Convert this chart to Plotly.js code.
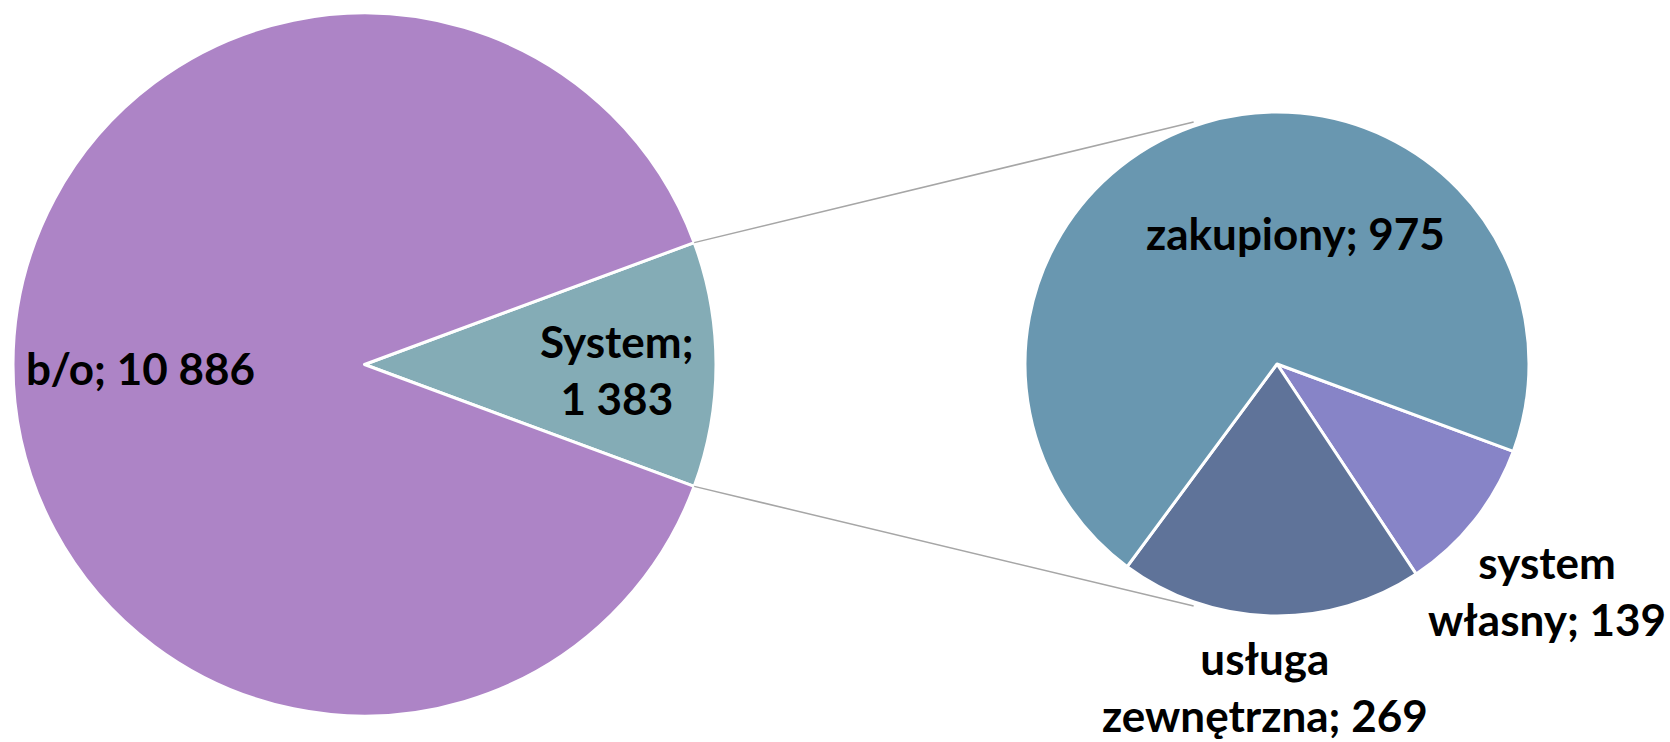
<!DOCTYPE html>
<html>
<head>
<meta charset="utf-8">
<script src="https://cdn.plot.ly/plotly-3.0.1.min.js"></script>
<style>html,body{margin:0;padding:0;background:#fff;}#chart{width:1670px;height:742px;}</style>
</head>
<body>
<div id="chart"></div>
<script>
// ---- data ----
const mainLabels = ["System", "b/o"];
const mainValues = [1383, 10886];
const subLabels = ["system własny", "usługa zewnętrzna", "zakupiony"];
const subValues = [139, 269, 975];

// ---- styles ----
const mainColors = ["#84acb6", "#ad84c6"];
const subColors = ["#8784c7", "#5f7399", "#6997b0"];
const W = 1670, H = 742;
const FONT = "Lato, 'Liberation Sans Narrow', sans-serif";

// pie geometry (pixels)
const L = {cx: 364.5, cy: 364.5, r: 351.5};
const R = {cx: 1277, cy: 364, r: 252};

function fmt(v) {
  return String(v).replace(/\B(?=(\d{3})+(?!\d))/g, " ");
}
const px = x => x / W;
const py = y => 1 - y / H;

const totalMain = mainValues.reduce((a, b) => a + b, 0);
const halfDeg = 180 * mainValues[0] / totalMain;

const traces = [
  {
    type: "pie", labels: mainLabels, values: mainValues, sort: false,
    direction: "clockwise", rotation: 90 - halfDeg,
    marker: {colors: mainColors, line: {color: "#ffffff", width: 3}},
    textinfo: "none", hoverinfo: "label+value",
    domain: {x: [px(L.cx - L.r), px(L.cx + L.r)], y: [py(L.cy + L.r), py(L.cy - L.r)]}
  },
  {
    type: "pie", labels: subLabels, values: subValues, sort: false,
    direction: "clockwise", rotation: 90 + halfDeg,
    marker: {colors: subColors, line: {color: "#ffffff", width: 3}},
    textinfo: "none", hoverinfo: "label+value",
    domain: {x: [px(R.cx - R.r), px(R.cx + R.r)], y: [py(R.cy + R.r), py(R.cy - R.r)]}
  }
];

// connector lines
const a = halfDeg * Math.PI / 180;
const phi = 19 * Math.PI / 180;
const shapes = [-1, 1].map(s => ({
  type: "line", xref: "paper", yref: "paper",
  x0: px(L.cx + L.r * Math.cos(a)), y0: py(L.cy + s * L.r * Math.sin(a)),
  x1: px(R.cx - (R.r + 4) * Math.sin(phi)), y1: py(R.cy + s * (R.r + 4) * Math.cos(phi)),
  line: {color: "#a6a6a6", width: 1.5}
}));

// label placement
const labelSpec = [
  {lab: mainLabels[1], val: mainValues[1], x: 24, y: 368, xanchor: "left", wrap: false},
  {lab: mainLabels[0], val: mainValues[0], x: 617, y: 370, xanchor: "center", wrap: "value"},
  {lab: subLabels[2], val: subValues[2], x: 1295, y: 233, xanchor: "center", wrap: false},
  {lab: subLabels[0], val: subValues[0], x: 1547, y: 590, xanchor: "center", wrap: "label"},
  {lab: subLabels[1], val: subValues[1], x: 1265, y: 686, xanchor: "center", wrap: "label"}
];
const annotations = labelSpec.map(d => {
  let text;
  if (d.wrap === "value") text = d.lab + ";<br>" + fmt(d.val);
  else if (d.wrap === "label") text = d.lab.replace(" ", "<br>") + "; " + fmt(d.val);
  else text = d.lab + "; " + fmt(d.val);
  return {
    text: text, xref: "paper", yref: "paper", x: px(d.x), y: py(d.y),
    xanchor: d.xanchor, yanchor: "middle", showarrow: false, align: "center",
    font: {family: FONT, size: 44, color: "#000000", weight: 700}
  };
});

const layout = {
  width: W, height: H, margin: {l: 0, r: 0, t: 0, b: 0},
  paper_bgcolor: "#ffffff", plot_bgcolor: "#ffffff",
  showlegend: false, shapes: shapes, annotations: annotations,
  font: {family: FONT}
};
Plotly.newPlot("chart", traces, layout, {staticPlot: true});
</script>
</body>
</html>
